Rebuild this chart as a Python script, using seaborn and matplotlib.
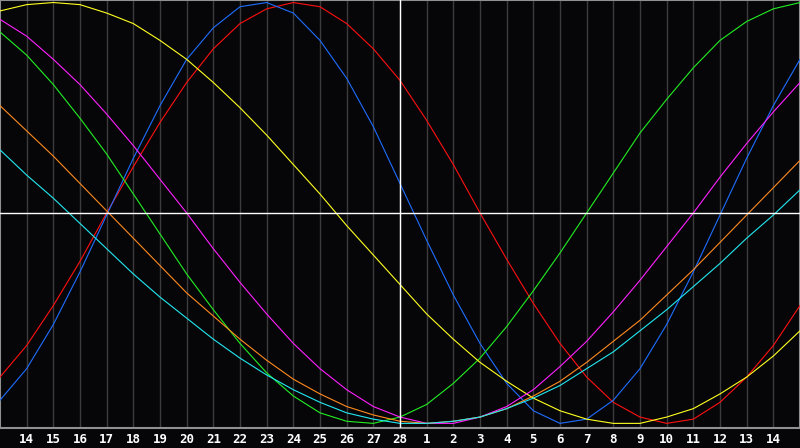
import numpy as np
import pandas as pd
import seaborn as sns
import matplotlib.pyplot as plt

sns.set_style('dark')
plt.rcParams['font.family'] = ['DejaVu Sans Mono', 'DejaVu Sans']

# day labels along the bottom (index 0..30, 0 and 30 sit on the frame)
day_labels = [str(d) for d in range(14, 29)] + [str(d) for d in range(1, 15)]
days = list(range(31))
today = 15

# cycle values in percent, one per day
physical = [-89, -74, -53, -28, -1, 26, 51, 73, 88, 98, 100, 95, 82, 64, 41, 14,
            -13, -39, -62, -81, -94, -100, -98, -89, -74, -53, -28, -1, 26, 51, 73]
emotional = [-78, -63, -44, -23, 0, 22, 43, 62, 78, 90, 97, 100, 98, 90, 78, 63,
             44, 23, 0, -22, -43, -62, -78, -90, -97, -100, -98, -90, -78, -63, -44]
intellectual = [86, 75, 61, 45, 28, 9, -10, -29, -46, -62, -76, -87, -95, -99, -100, -97,
                -91, -81, -69, -54, -37, -19, 0, 19, 38, 54, 69, 82, 91, 97, 100]
aesthetic = [96, 99, 100, 99, 95, 90, 82, 73, 62, 50, 37, 23, 9, -6, -20, -34,
             -48, -60, -71, -80, -88, -94, -98, -100, -100, -97, -93, -86, -78, -68, -56]
intuitive = [92, 84, 73, 61, 47, 32, 16, 0, -17, -33, -48, -62, -74, -84, -92, -97,
             -100, -100, -97, -92, -84, -73, -61, -47, -32, -16, 0, 17, 33, 48, 62]
awareness = [51, 39, 27, 14, 1, -12, -25, -38, -49, -60, -70, -79, -86, -92, -96, -99,
             -100, -99, -97, -93, -87, -80, -71, -61, -51, -39, -27, -14, -1, 12, 25]
spiritual = [30, 18, 7, -5, -17, -29, -40, -50, -60, -69, -77, -84, -90, -95, -98, -100,
             -100, -99, -97, -93, -88, -82, -74, -66, -56, -46, -35, -24, -12, -1, 11]

series = {
    'emotional': (emotional, '#ff1010'),
    'physical': (physical, '#1e6eff'),
    'intellectual': (intellectual, '#22ee22'),
    'aesthetic': (aesthetic, '#ffff20'),
    'intuitive': (intuitive, '#ff20ff'),
    'awareness': (awareness, '#ff8a1e'),
    'spiritual': (spiritual, '#22e8f0'),
}

fig = plt.figure(figsize=(8, 4.48), dpi=100, facecolor='#060609')
ax = fig.add_axes([0, 20 / 448, 1, 428 / 448])
ax.set_facecolor('#060609')

for name, (vals, col) in series.items():
    df = pd.DataFrame({'day': days, 'value': vals})
    sns.lineplot(data=df, x='day', y='value', color=col, linewidth=0.8, ax=ax, zorder=3)

ax.axhline(0, color='white', linewidth=1.0, zorder=5)
ax.axvline(today, color='white', linewidth=1.0, zorder=5)

ax.set_xlim(0, 30)
ax.set_ylim(-102.2, 101.2)
ax.set_xticks(range(1, 30))
ax.set_xticklabels(day_labels, color='white', fontsize=9, fontweight='bold')
ax.set_yticks([])
ax.tick_params(axis='x', length=0, pad=3.5)
ax.grid(axis='x', color='#3c3c3c', linewidth=1, zorder=0)
ax.grid(axis='y', visible=False)
ax.set_xlabel('')
ax.set_ylabel('')
for s in ax.spines.values():
    s.set_visible(True)
    s.set_color('#909090')
    s.set_linewidth(1.5)

fig.savefig('out.png', dpi=100, facecolor=fig.get_facecolor())
